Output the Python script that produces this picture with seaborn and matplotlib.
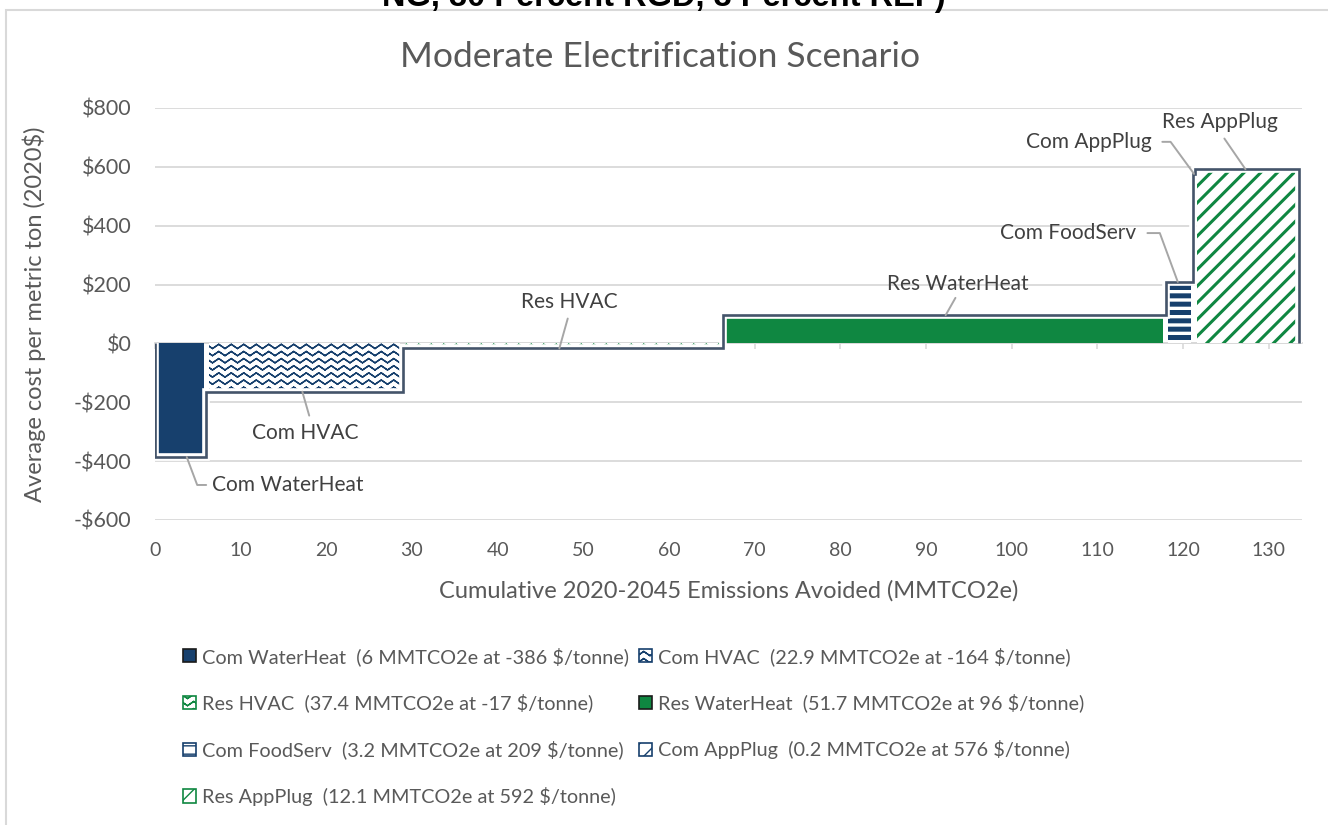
import warnings

import matplotlib
matplotlib.use("Agg")
import numpy as np
import matplotlib.pyplot as plt
import seaborn as sns
from matplotlib import hatch as mhatch
from matplotlib.path import Path
from matplotlib.patches import Patch, Rectangle

warnings.filterwarnings("ignore", category=matplotlib.MatplotlibDeprecationWarning)

# data
measures = ["Com WaterHeat", "Com HVAC", "Res HVAC", "Res WaterHeat",
            "Com FoodServ", "Com AppPlug", "Res AppPlug"]
avoided = [6.0, 22.9, 37.4, 51.7, 3.2, 0.2, 12.1]  # MMTCO2e
cost = [-386, -164, -17, 96, 209, 576, 592]  # $/tonne
yticks = [-600, -400, -200, 0, 200, 400, 600, 800]
xticks = list(range(0, 131, 10))

NAVY = "#17406D"
GREEN = "#0F8741"
OUTLINE = "#44546A"
GRID = "#D9D9D9"
TEXT = "#595959"
LABEL = "#404040"
LEADER = "#A6A6A6"

# style per measure: face, hatch colour, hatch, hatch linewidth
faces = [NAVY, "white", "white", GREEN, "white", "white", "white"]
hcolors = [NAVY, NAVY, GREEN, GREEN, NAVY, NAVY, GREEN]
hatches = [None, "w", "w", None, "--", "//", "//"]
hwidths = [1.0, 1.0, 1.0, 1.0, 3.6, 2.4, 2.2]


class WaveHatch(mhatch.HatchPatternBase):
    """zigzag rows, close to Excel's 'wave' pattern"""

    def __init__(self, hatch, density):
        self.num_rows = int(hatch.count("w") * density * 7 / 3)
        self.half = 17
        # each row goes out and back so that the agg hatch fill has no area
        self.per_row = 2 * self.half - 1
        self.num_vertices = self.num_rows * self.per_row

    def set_vertices_and_codes(self, vertices, codes):
        n = self.half
        xs = np.linspace(0, 1, n)
        amp = 0.3 / max(self.num_rows, 1)
        offs = np.where(np.arange(n) % 2 == 0, -amp, amp)
        xs = np.concatenate([xs, xs[-2::-1]])
        offs = np.concatenate([offs, offs[-2::-1]])
        m = self.per_row
        for i in range(self.num_rows):
            y = (i + 0.5) / self.num_rows
            vertices[i * m:(i + 1) * m, 0] = xs
            vertices[i * m:(i + 1) * m, 1] = y + offs
            codes[i * m] = Path.MOVETO
            codes[i * m + 1:(i + 1) * m] = Path.LINETO


mhatch._hatch_types.append(WaveHatch)

sns.set_theme(style="white")
plt.rcParams["font.family"] = ["Lato", "DejaVu Sans"]

fig = plt.figure(figsize=(13.28, 8.25), dpi=100)
ax = fig.add_axes([155 / 1328, 1 - 520 / 825, (1302 - 155) / 1328, 412 / 825])

edges = np.concatenate([[0], np.cumsum(avoided)])
widths = np.array(avoided)
gap = 0.3
for i in range(len(measures)):
    with plt.rc_context({"hatch.linewidth": hwidths[i]}):
        bars = ax.bar(edges[i] + gap, cost[i], width=max(widths[i] - 2 * gap, 0.01),
                      align="edge", color=faces[i], edgecolor=hcolors[i],
                      linewidth=0, hatch=hatches[i], zorder=2)
    for b in bars:
        if hasattr(b, "set_hatch_linewidth"):
            b.set_hatch_linewidth(hwidths[i])

# stepped outline around the curve
ax.stairs(cost, edges, baseline=0, color="white", lw=5.5, zorder=3)
ax.stairs(cost, edges, baseline=0, color=OUTLINE, lw=1.9, zorder=4)

ax.set_xlim(0, 133.9)
ax.set_ylim(-600, 800)
ax.set_xticks(xticks)
ax.set_yticks(yticks)
ax.set_yticklabels([f"-${-v}" if v < 0 else f"${v}" for v in yticks])
ax.grid(axis="y", color=GRID, lw=1.3)
ax.grid(axis="x", visible=False)
ax.set_axisbelow(True)
sns.despine(ax=ax, left=True, bottom=True)
ax.tick_params(axis="both", length=0, colors=TEXT)
ax.tick_params(axis="x", pad=16, labelsize=14)
ax.tick_params(axis="y", pad=17, labelsize=15.5)

# horizontal axis line crossing at zero, with its tick marks
sec = ax.secondary_xaxis(0, transform=ax.transData)
sec.set_xticks(xticks)
sec.tick_params(axis="x", direction="out", length=4, width=1.2, color=GRID, labelbottom=False)
for s in ["top", "left", "right"]:
    sec.spines[s].set_visible(False)
sec.spines["bottom"].set_color(GRID)
sec.spines["bottom"].set_linewidth(1.3)

ax.set_xlabel("Cumulative 2020-2045 Emissions Avoided (MMTCO2e)", fontsize=17, color=TEXT, labelpad=15)
ax.set_ylabel("Average cost per metric ton (2020$)", fontsize=17, color=TEXT, labelpad=20)

fig.text(660 / 1328, 1 - 57 / 825, "Moderate Electrification Scenario", ha="center", va="center",
         fontsize=25.5, color=TEXT)
fig.text(0.5, 1 - 6 / 825, "NG, 30 Percent RGD, 3 Percent REF)", ha="center", va="baseline",
         fontsize=23.5, fontweight="bold", color="black", family=["Liberation Sans", "DejaVu Sans"])
fig.add_artist(Rectangle((6 / 1328, -0.1), 1.2, 1.1 - 10 / 825, transform=fig.transFigure,
                         fill=False, ec=GRID, lw=1.5))


def leader(text, xy, xytext, ha="center", relpos=(0.5, 0.5), conn="arc3", shrink=3):
    ax.annotate(text, xy=xy, xytext=xytext, ha=ha, va="center", fontsize=15, color=LABEL,
                zorder=6,
                arrowprops=dict(arrowstyle="-", color=LEADER, lw=1.4, connectionstyle=conn,
                                relpos=relpos, shrinkA=shrink, shrinkB=0))


leader("Com WaterHeat", (3.7, cost[0]), (6.6, -481), ha="left", relpos=(0, 0.5),
       conn="angle,angleA=0,angleB=-69.4,rad=0", shrink=1.5)
leader("Com HVAC", (17.2, cost[1]), (17.5, -304), relpos=(0.56, 1), shrink=3)
leader("Res HVAC", (47.2, cost[2]), (48.4, 141), relpos=(0.5, 0), shrink=2.5)
leader("Res WaterHeat", (92.3, cost[3]), (93.7, 202), relpos=(0.5, 0), shrink=0.5)
leader("Com FoodServ", (119.4, cost[4]), (114.5, 375), ha="right", relpos=(1, 0.5),
       conn="angle,angleA=0,angleB=-69.8,rad=0", shrink=6)
leader("Com AppPlug", (121.3, cost[5]), (116.4, 685), ha="right", relpos=(1, 0.5),
       conn="angle,angleA=0,angleB=-53.8,rad=0", shrink=5)
leader("Res AppPlug", (127.3, cost[6]), (124.3, 753), relpos=(0.5, 0), shrink=3)

# legend, laid out row by row like the original
labels = [f"{m}  ({a:g} MMTCO2e at {c} $/tonne)" for m, a, c in zip(measures, avoided, cost)]
handles = []
for i in range(len(measures)):
    with plt.rc_context({"hatch.linewidth": hwidths[i]}):
        h = Patch(facecolor=faces[i], edgecolor="#1a1a1a" if hatches[i] is None else hcolors[i],
                  hatch=hatches[i], lw=1.2)
    if hasattr(h, "set_hatch_linewidth"):
        h.set_hatch_linewidth(hwidths[i])
    handles.append(h)
order = [0, 2, 4, 6, 1, 3, 5]
fig.legend([handles[i] for i in order], [labels[i] for i in order], ncol=2,
           loc="upper left", bbox_to_anchor=(183 / 1328, 1 - 647 / 825), frameon=False,
           fontsize=14.3, labelcolor=TEXT, handlelength=0.65, handleheight=0.65,
           handletextpad=0.3, columnspacing=0.5, labelspacing=1.4, borderpad=0,
           borderaxespad=0)

fig.savefig("out.png", dpi=100)
